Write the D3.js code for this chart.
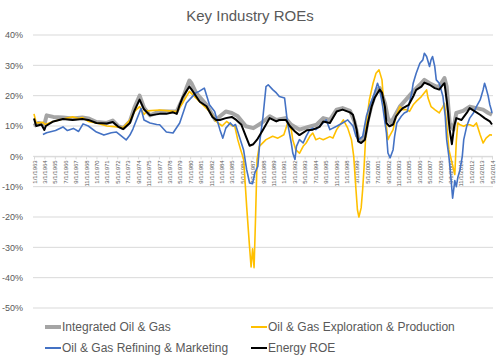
<!DOCTYPE html>
<html><head><meta charset="utf-8">
<script src="https://cdn.jsdelivr.net/npm/d3@7"></script>
<style>body{margin:0;background:#fff;}svg{display:block;font-family:"Liberation Sans",Arial,sans-serif;}</style>
</head><body><svg id="c" width="500" height="361"></svg>
<script>
const title = "Key Industry ROEs";
const seriesNames = ["Integrated Oil & Gas","Oil & Gas Exploration & Production","Oil & Gas Refining & Marketing","Energy ROE"];
const yTicks = [-50,-40,-30,-20,-10,0,10,20,30,40];
const xStart = "1963-01", xEnd = "2014-05";
const xTickStepMonths = 14;

const integrated = [["1963-01",10],["1963-07",11],["1964-03",10.5],["1964-06",13.5],["1965-03",13],["1966-04",12.8],["1967-05",12.5],["1968-06",12.8],["1969-02",12.5],["1970-01",11.3],["1971-03",11],["1971-11",11.8],["1972-06",10],["1973-01",9.3],["1973-10",11.5],["1974-04",16],["1974-11",20],["1975-05",16],["1976-01",13.5],["1977-02",14.8],["1978-03",14.8],["1979-01",14.8],["1979-09",19],["1980-02",22.5],["1980-06",25],["1980-09",24],["1981-03",20.9],["1982-05",17],["1983-05",12],["1984-07",14.8],["1985-03",14.3],["1985-11",13.2],["1986-10",9.9],["1987-08",9.3],["1988-07",11],["1989-06",13.2],["1990-03",12],["1991-03",12.6],["1991-11",10.4],["1992-10",8.8],["1993-10",9.7],["1994-09",10.4],["1995-06",12.6],["1996-03",12],["1996-12",15.4],["1997-08",15.9],["1998-06",15],["1998-12",11.5],["1999-05",6],["1999-09",5.5],["2000-02",6.6],["2000-06",12],["2000-11",17],["2001-06",22],["2001-10",22.5],["2002-05",17.5],["2002-09",12.6],["2003-01",11],["2003-06",13.2],["2004-01",16.4],["2004-09",18.6],["2005-07",21.4],["2006-04",23.6],["2006-10",25.2],["2007-05",24.1],["2008-02",23],["2008-06",23],["2009-01",25.8],["2009-04",23],["2009-08",11],["2010-01",8.8],["2010-05",14.3],["2011-02",15],["2011-11",16.4],["2012-08",15.9],["2013-05",15.4],["2013-12",14.3],["2014-05",13.7]];

const exploration = [["1963-01",14],["1963-04",11],["1964-01",11.2],["1964-04",10.5],["1965-03",11.5],["1966-04",12.3],["1967-05",13],["1968-01",12.5],["1968-06",12.8],["1969-02",11.5],["1970-01",11],["1971-03",10],["1972-01",9.8],["1973-01",9.5],["1973-10",12],["1974-05",15],["1974-11",16.4],["1975-05",13.8],["1975-09",15],["1977-02",15.3],["1978-03",15],["1979-01",14.8],["1979-09",17.6],["1980-06",21.4],["1981-03",19.2],["1982-09",14.8],["1983-06",11.5],["1984-02",10],["1984-08",11.5],["1985-04",10],["1985-07",10],["1985-11",5.5],["1986-03",2.2],["1986-07",-1],["1986-11",-16.5],["1987-03",-30],["1987-05",-36.5],["1987-07",-30.5],["1987-09",-36.7],["1987-11",-20],["1988-01",-1],["1988-04",3.3],["1989-01",5.5],["1989-10",6.6],["1990-05",6],["1991-01",7.1],["1991-04",9.3],["1991-06",11],["1991-11",8.8],["1992-01",5.5],["1992-05",2.2],["1992-10",1],["1993-03",3.3],["1993-07",4.4],["1993-12",6.6],["1994-04",7.7],["1994-08",5.5],["1995-01",6],["1995-06",5.5],["1996-03",6.5],["1996-07",6],["1996-12",8.8],["1997-09",12],["1998-03",9.3],["1998-08",5.5],["1998-11",0],["1999-02",-11],["1999-04",-17.6],["1999-06",-20],["1999-09",-17],["1999-11",-11],["2000-01",-3.3],["2000-04",11],["2000-08",18.6],["2001-01",24.1],["2001-05",27.4],["2001-09",28.5],["2002-01",25.2],["2002-03",18.6],["2002-07",9.9],["2002-09",5.5],["2002-11",6.6],["2003-04",8.8],["2003-08",13.2],["2004-01",16.4],["2004-05",15.4],["2004-10",15.4],["2005-02",14.8],["2005-07",17],["2005-11",18.1],["2006-06",19.7],["2007-01",21.9],["2007-03",19.2],["2007-07",16.4],["2007-12",15.4],["2008-06",14.3],["2008-11",16.4],["2009-01",17.5],["2009-04",11],["2009-07",2.2],["2009-12",-3],["2010-03",-6],["2010-05",5],["2010-07",11],["2010-10",10.4],["2011-03",9.9],["2011-07",10.4],["2011-11",10.4],["2012-04",9.9],["2012-08",11],["2013-01",7.1],["2013-05",4.4],["2013-09",6],["2014-02",7.1],["2014-05",7]];

const refining = [["1964-01",7.2],["1964-06",7.8],["1965-06",8.5],["1966-04",9.7],["1966-10",8.5],["1967-06",9.2],["1968-01",8.2],["1968-07",10.7],["1969-02",10],["1970-01",8],["1970-11",7],["1971-09",7.8],["1972-04",8],["1973-05",5.4],["1973-10",7],["1974-02",9],["1975-01",15.8],["1975-05",12],["1976-01",11],["1976-10",10.5],["1977-02",10.4],["1977-11",8],["1978-08",7.7],["1979-05",11],["1980-02",17.6],["1980-08",19.2],["1981-03",21],["1981-07",21.4],["1982-02",22.5],["1982-09",17],["1983-04",14.8],["1983-11",8.8],["1984-03",6],["1984-07",9.3],["1985-01",11],["1985-05",10],["1985-08",10.5],["1986-01",6.6],["1986-07",2],["1986-11",-4.4],["1987-03",-8.8],["1987-07",-9],["1987-10",-5.5],["1988-02",-3.3],["1988-05",5.5],["1988-09",13.2],["1989-01",23],["1989-04",23.6],["1989-10",22],["1990-03",20.9],["1990-07",19.7],["1991-02",19.2],["1991-06",11],["1991-11",4.4],["1992-01",1.1],["1992-04",-1],["1992-06",3.3],["1992-10",5.5],["1993-03",4.4],["1993-07",6.6],["1993-12",8.8],["1994-04",9.3],["1994-08",8.8],["1995-01",9.9],["1995-06",11],["1995-10",12],["1996-03",8.8],["1996-12",9.9],["1997-08",11],["1998-03",12],["1998-10",10],["1999-02",6.6],["1999-06",5.5],["1999-11",6.6],["2000-04",13.2],["2000-08",16.4],["2001-03",20.8],["2001-07",24.1],["2001-10",22],["2002-02",16.4],["2002-07",7.7],["2002-09",1.1],["2002-12",-0.5],["2003-04",2.2],["2003-06",6.6],["2003-09",11],["2004-03",13.2],["2004-07",14.3],["2004-11",14.8],["2005-05",20.8],["2005-07",24.1],["2005-11",27.4],["2006-04",30.7],["2006-08",31.8],["2006-10",34],["2007-01",32.9],["2007-05",29.6],["2007-07",31.8],["2007-09",32.9],["2007-12",29.6],["2008-02",25.2],["2008-06",24.1],["2008-11",19.7],["2009-02",13.2],["2009-04",5.5],["2009-07",0],["2009-09",-5],["2009-12",-13.8],["2010-03",-8],["2010-05",-10],["2010-07",-7],["2010-10",-4.4],["2011-01",0],["2011-03",5.5],["2011-07",9.9],["2011-11",12.6],["2012-04",14.3],["2012-08",16.4],["2013-01",18.6],["2013-05",21.9],["2013-07",24.1],["2013-09",22.5],["2013-12",19.7],["2014-02",17],["2014-04",15.4],["2014-05",14.3]];

const energy = [["1963-01",12.5],["1963-04",10],["1963-11",10.5],["1964-03",8.7],["1964-05",10],["1965-03",11.5],["1966-04",12.3],["1967-05",12],["1968-06",12.3],["1969-02",12],["1970-01",11],["1971-03",10.8],["1971-11",11.3],["1972-06",9.8],["1973-01",9],["1973-10",11],["1974-04",15],["1974-11",18.7],["1975-05",15.5],["1976-01",13.5],["1977-02",14],["1977-11",14],["1978-08",14.5],["1979-01",14],["1979-05",17],["1979-09",19.5],["1980-02",21.5],["1980-06",23],["1980-09",22],["1981-03",19.8],["1981-08",18],["1982-05",16.5],["1983-01",13],["1983-06",12],["1983-11",12],["1984-07",12.6],["1985-03",13],["1985-09",12],["1986-04",10.4],["1986-10",6.6],["1987-03",3.5],["1987-08",4],["1988-01",5.5],["1988-09",8.8],["1989-06",12.6],["1990-03",11.5],["1990-07",12],["1991-04",12],["1991-09",10],["1992-04",8.2],["1992-10",7],["1993-08",8.6],["1994-04",8.8],["1995-01",9.7],["1995-06",11.5],["1996-03",11],["1996-12",14.8],["1997-08",15.4],["1998-06",14.5],["1998-10",13.7],["1999-03",8.8],["1999-05",4.9],["1999-09",4.4],["2000-02",5.5],["2000-06",11],["2000-11",16.4],["2001-03",19.2],["2001-10",22],["2002-01",21],["2002-05",16.4],["2002-07",11],["2002-11",9.9],["2003-04",10.5],["2003-08",13.2],["2004-01",14.8],["2004-05",15.9],["2005-01",17],["2005-07",19.7],["2005-11",21.9],["2006-06",23],["2006-10",24.3],["2007-05",23.6],["2007-12",22.5],["2008-06",22],["2008-11",23.6],["2009-01",24.1],["2009-04",18.6],["2009-06",14.3],["2009-08",8.8],["2009-11",4],["2010-02",9.9],["2010-05",12.6],["2010-12",12],["2011-07",14.3],["2011-11",15.9],["2012-06",14.8],["2013-01",13.7],["2013-07",12.6],["2014-02",11.5],["2014-05",10.5]];

const colors = ["#a5a5a5","#ffc000","#4472c4","#000000"];
const widths = [4,1.6,1.6,2];

const parse = d3.timeParse("%Y-%m");
const svg = d3.select("#c");
const L = 34, R = 492, T = 35, B = 308;
const x = d3.scaleTime().domain([parse(xStart), parse(xEnd)]).range([L, R]);
const y = d3.scaleLinear().domain([-50, 40]).range([B, T]);

svg.append("text").attr("x", 250).attr("y", 21).attr("text-anchor","middle")
  .attr("fill","#595959").style("font-size","15px").text(title);

svg.append("g").selectAll("line").data(yTicks).join("line")
  .attr("x1", L-1).attr("x2", R+1).attr("y1", d=>y(d)).attr("y2", d=>y(d))
  .attr("stroke","#d9d9d9").attr("stroke-width",1);

const yAxis = svg.append("g").attr("transform",`translate(${L-8},0)`)
  .call(d3.axisLeft(y).tickValues(yTicks).tickFormat(d=>d+"%").tickSize(0));
yAxis.select(".domain").remove();
yAxis.selectAll("text").attr("fill","#595959").style("font-size","9px").style("font-family","Liberation Sans, Arial, sans-serif");

const xTickDates = d3.timeMonth.range(parse(xStart), d3.timeMonth.offset(parse(xEnd),1)).filter((d,i)=>i % xTickStepMonths === 0);
const fmt = d3.timeFormat("%-m/%-d/%Y");
const xAxis = svg.append("g").attr("transform",`translate(0,${y(0)})`)
  .call(d3.axisBottom(x).tickValues(xTickDates).tickFormat(fmt).tickSize(3));
xAxis.select(".domain").attr("stroke","#d9d9d9");
xAxis.selectAll(".tick line").attr("stroke","#d9d9d9");
xAxis.selectAll("text").attr("transform","rotate(-90)").attr("x",-4).attr("y",0).attr("dy","0.35em")
  .style("text-anchor","end").attr("fill","#595959").style("font-size","6px").style("font-family","Liberation Sans, Arial, sans-serif");

const line = d3.line().x(d=>x(parse(d[0]))).y(d=>y(d[1]));
const all = [integrated, exploration, refining, energy];
svg.append("g").selectAll("path").data(all).join("path")
  .attr("d", line).attr("fill","none")
  .attr("stroke",(d,i)=>colors[i]).attr("stroke-width",(d,i)=>widths[i])
  .attr("stroke-linejoin","round");

const legPos = [[45,327],[251,327],[45,348],[251,348]];
const lg = svg.append("g").selectAll("g").data(seriesNames).join("g")
  .attr("transform",(d,i)=>`translate(${legPos[i][0]},${legPos[i][1]})`);
lg.append("line").attr("x1",0).attr("x2",16).attr("y1",0).attr("y2",0)
  .attr("stroke",(d,i)=>colors[i]).attr("stroke-width",(d,i)=>i===0?4:2);
lg.append("text").attr("x",17).attr("y",0).attr("dy","0.35em")
  .attr("fill","#595959").style("font-size","12px").text(d=>d);
</script></body></html>
